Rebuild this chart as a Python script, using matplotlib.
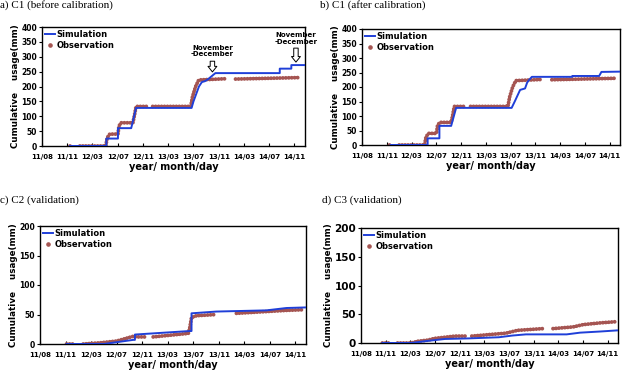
import numpy as np
import matplotlib.pyplot as plt

# x values: days counted from 2011-08-01, ticks every 120 days
tick_days = [0, 120, 240, 360, 480, 600, 720, 840, 960, 1080, 1200]
tick_labels = ['11/08', '11/11', '12/03', '12/07', '12/11', '13/03',
               '13/07', '13/11', '14/03', '14/07', '14/11']

# C1 observation (same in a and b), nan = gap
obs_c1_day = [133, 140, np.nan, 180, 303, 310, 322, 361, 366, 377, 432, 440, 447, 502,
              np.nan, 526, 707, 715, 730, 745, 870, np.nan, 920, 1100, 1225]
obs_c1_val = [0, 0, np.nan, 0, 0, 28, 40, 40, 68, 78, 78, 105, 133, 133,
              np.nan, 133, 133, 165, 200, 222, 226, np.nan, 225, 228, 230]

# C1 simulation before calibration
sim_a_day = [133, 306, 306, 361, 361, 424, 447, 711, 720, 746, 760, 775, 790, 824,
             1130, 1130, 1185, 1185, 1250]
sim_a_val = [0, 0, 25, 25, 60, 60, 128, 128, 150, 200, 215, 218, 225, 245,
             245, 260, 260, 272, 272]

# C1 simulation after calibration
sim_b_day = [139, 318, 318, 375, 375, 432, 456, 725, 740, 766, 790, 800, 810, 823,
             1019, 1019, 1149, 1160, 1250]
sim_b_val = [0, 0, 23, 23, 66, 66, 128, 128, 150, 190, 195, 215, 225, 235,
             235, 238, 238, 252, 253]

# C2
obs_c2_day = [125, 156, np.nan, 203, 282, 360, 438, 454, 501, np.nan, 532, 697, 704, 712,
              736, 829, np.nan, 923, 1064, 1158, 1229]
obs_c2_val = [0, 0, np.nan, 0, 2, 5, 13, 12, 12, np.nan, 12, 18, 28, 45,
              48, 50, np.nan, 52, 55, 57, 58]
sim_c2_day = [125, 300, 438, 446, 446, 704, 712, 712, 829, 1064, 1158, 1250]
sim_c2_val = [0, 0, 7, 7, 16, 22, 22, 52, 55, 57, 61, 62]

# C3
obs_c3_day = [104, 145, np.nan, 178, 243, 276, 325, 358, 408, 457, 506, np.nan, 539,
              635, 704, 761, 884, np.nan, 934, 1032, 1081, 1164, 1238]
obs_c3_val = [0, 0, np.nan, 0, 0, 3, 5, 8, 10, 12, 12, np.nan, 12,
              15, 17, 22, 25, np.nan, 25, 28, 32, 35, 37]
sim_c3_day = [104, 243, 309, 408, 523, 671, 737, 802, 1000, 1066, 1164, 1250]
sim_c3_val = [0, 0, 3, 7, 8, 10, 13, 15, 15, 18, 20, 22]

blue = '#1f3fd8'
brown = '#a55552'

plt.rcParams['font.family'] = 'DejaVu Sans'
fig = plt.figure(figsize=(6.25, 3.76), dpi=100)


def make_panel(rect, obs_d, obs_v, sim_d, sim_v, ymax, ystep):
    ax = fig.add_axes(rect)
    # observation drawn as a dense row of round dots
    ax.plot(obs_d, obs_v, color=brown, lw=2.8, ls=(0, (0.01, 0.75)),
            dash_capstyle='round', zorder=2)
    ax.plot(sim_d, sim_v, color=blue, lw=1.4, zorder=3)
    # legend handles
    ax.plot([], [], color=blue, lw=1.4, label='Simulation')
    ax.plot([], [], 'o', color=brown, ms=2.3, label='Observation')
    h, l = ax.get_legend_handles_labels()
    ax.legend(h[-2:], l[-2:], loc='upper left', frameon=False,
              prop={'weight': 'bold', 'size': 6}, handlelength=1.2,
              handletextpad=0.1, labelspacing=0.15, borderaxespad=0.2,
              borderpad=0.2)
    ax.set_xlim(0, 1250)
    ax.set_ylim(0, ymax)
    ax.set_xticks(tick_days)
    ax.set_xticklabels(tick_labels, fontsize=5, fontweight='bold')
    ax.set_yticks(np.arange(0, ymax + 1, ystep))
    ax.tick_params(axis='y', labelsize=5.5, length=2, width=0.8, pad=1.5)
    ax.tick_params(axis='x', direction='in', length=2, width=0.8, pad=6)
    for lbl in ax.get_yticklabels():
        lbl.set_fontweight('bold')
    for s in ax.spines.values():
        s.set_linewidth(1.0)
    ax.set_xlabel('year/ month/day', fontsize=7, fontweight='bold', labelpad=1)
    ax.set_ylabel('Cumulative    usage(mm)', fontsize=6.3, fontweight='bold',
                  labelpad=1)
    return ax


W, H = 625, 376


def rect(l, r, t, b):
    return [l / W, 1 - b / H, (r - l) / W, (b - t) / H]


ax_a = make_panel(rect(42, 305, 27, 146), obs_c1_day, obs_c1_val,
                  sim_a_day, sim_a_val, 400, 50)
ax_b = make_panel(rect(362, 620, 29, 145), obs_c1_day, obs_c1_val,
                  sim_b_day, sim_b_val, 400, 50)
ax_c = make_panel(rect(40, 306, 226, 344), obs_c2_day, obs_c2_val,
                  sim_c2_day, sim_c2_val, 200, 50)
ax_d = make_panel(rect(361, 618, 228, 343), obs_c3_day, obs_c3_val,
                  sim_c3_day, sim_c3_val, 200, 50)
ax_d.tick_params(axis='y', labelsize=7.5)

# annotations in panel a: text, arrow head and arrow tail
for xa, ytxt, yhead, ytail in [(810, 319, 249, 285), (1207, 362, 282, 329)]:
    ax_a.text(xa, ytxt, 'November\n-December', fontsize=5, fontweight='bold',
              ha='center', va='center', linespacing=1.1)
    ax_a.annotate('', xy=(xa, yhead), xytext=(xa, ytail),
                  arrowprops=dict(arrowstyle='simple,head_width=0.8,head_length=0.5,tail_width=0.4',
                                  fc='white', ec='black', lw=0.7,
                                  mutation_scale=8, shrinkA=0, shrinkB=0))

# panel captions
serif = 'Liberation Serif'
fig.text(0 / W, 1 - 8 / H, 'a) C1 (before calibration)', family=serif,
         fontsize=8, va='baseline')
fig.text(320 / W, 1 - 8 / H, 'b) C1 (after calibration)', family=serif,
         fontsize=8, va='baseline')
fig.text(0 / W, 1 - 200 / H, 'c) C2 (validation)', family=serif,
         fontsize=8, va='center')
fig.text(322 / W, 1 - 200 / H, 'd) C3 (validation)', family=serif,
         fontsize=8, va='center')

fig.savefig('out.png', dpi=100)
